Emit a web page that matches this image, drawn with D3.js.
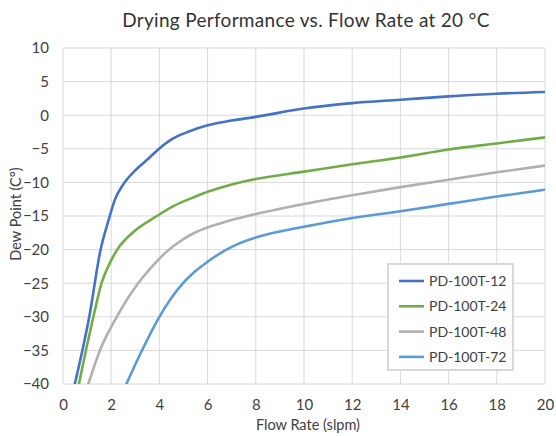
<!DOCTYPE html>
<html>
<head>
<meta charset="utf-8">
<script src="https://cdn.jsdelivr.net/npm/d3@7"></script>
<style>
  body { margin: 0; background: #fff; }
  text { font-family: Lato, "Open Sans", sans-serif; fill: #404040; }
</style>
</head>
<body>
<script>
const seriesNames = ['PD-100T-12', 'PD-100T-24', 'PD-100T-48', 'PD-100T-72']
const seriesColors = ['#4472c4', '#70ad47', '#b0b0b0', '#5b9bd5']

const pd12 = [[0.49,-40],[1.09,-30],[1.56,-20],[1.9,-15.5],[2.15,-12.6],[2.5,-10.3],[3.0,-8.2],[3.5,-6.6],[3.95,-5.1],[4.5,-3.6],[5.25,-2.4],[6,-1.5],[7,-0.8],[8,-0.25],[10,1.0],[12,1.8],[14,2.3],[16,2.8],[18,3.2],[20,3.45]]
const pd24 = [[0.66,-40],[0.95,-35],[1.26,-30],[1.6,-25],[2.0,-21.6],[2.25,-20],[2.85,-17.6],[3.9,-15],[4.6,-13.5],[5.5,-12.1],[6,-11.4],[7,-10.3],[8,-9.5],[10,-8.4],[12,-7.3],[14,-6.3],[16,-5.1],[18,-4.2],[20,-3.3]]
const pd48 = [[1.05,-40],[1.53,-35],[2.23,-30],[3.12,-25],[3.75,-22.3],[4.3,-20.3],[4.8,-18.9],[5.4,-17.6],[6,-16.7],[7,-15.6],[8,-14.7],[10,-13.2],[12,-11.9],[14,-10.7],[16,-9.6],[18,-8.5],[20,-7.5]]
const pd72 = [[2.63,-40],[3.25,-35.2],[4.0,-30],[4.98,-25],[5.5,-23.2],[6,-21.8],[6.5,-20.6],[7,-19.6],[8,-18.2],[9,-17.3],[10,-16.6],[12,-15.3],[14,-14.3],[16,-13.2],[18,-12.1],[20,-11.1]]
const seriesData = [pd12, pd24, pd48, pd72]

const xTicks = [0, 2, 4, 6, 8, 10, 12, 14, 16, 18, 20]
const yTicks = [10, 5, 0, -5, -10, -15, -20, -25, -30, -35, -40]

const width = 556, height = 436
const margin = { top: 48, right: 11, bottom: 52, left: 63 }

const svg = d3.select('body').append('svg')
  .attr('width', width)
  .attr('height', height)

const x = d3.scaleLinear().domain([0, 20]).range([margin.left, width - margin.right])
const y = d3.scaleLinear().domain([-40, 10]).range([height - margin.bottom, margin.top])

// grid
svg.append('g')
  .selectAll('line.v')
  .data(xTicks)
  .enter().append('line')
  .attr('x1', d => x(d)).attr('x2', d => x(d))
  .attr('y1', y(10)).attr('y2', y(-40))
  .attr('stroke', '#d9d9d9')
  .attr('stroke-width', 1)

svg.append('g')
  .selectAll('line.h')
  .data(yTicks)
  .enter().append('line')
  .attr('x1', x(0)).attr('x2', x(20))
  .attr('y1', d => y(d)).attr('y2', d => y(d))
  .attr('stroke', '#d9d9d9')
  .attr('stroke-width', 1)

// axes (labels only)
const xAxis = svg.append('g')
  .attr('transform', `translate(0,${y(-40)})`)
  .call(d3.axisBottom(x).tickValues(xTicks).tickSize(0).tickPadding(15))
xAxis.select('.domain').remove()
xAxis.selectAll('text').style('font-size', '15px').style('fill', '#404040')

const yAxis = svg.append('g')
  .attr('transform', `translate(${x(0)},0)`)
  .call(d3.axisLeft(y).tickValues(yTicks).tickSize(0).tickPadding(14))
yAxis.select('.domain').remove()
yAxis.selectAll('text').style('font-size', '15px').style('fill', '#404040')

svg.append('clipPath').attr('id', 'plot')
  .append('rect')
  .attr('x', x(0)).attr('y', y(10))
  .attr('width', x(20) - x(0)).attr('height', y(-40) - y(10))

const line = d3.line()
  .curve(d3.curveMonotoneX)
  .x(d => x(d[0]))
  .y(d => y(d[1]))

svg.append('g')
  .attr('clip-path', 'url(#plot)')
  .selectAll('path')
  .data(seriesData)
  .enter().append('path')
  .attr('d', line)
  .attr('fill', 'none')
  .attr('stroke', (d, i) => seriesColors[i])
  .attr('stroke-width', 2.6)
  .attr('stroke-linecap', 'round')

// title + axis titles
svg.append('text')
  .attr('x', (x(0) + x(20)) / 2 + 2)
  .attr('y', 27)
  .attr('text-anchor', 'middle')
  .style('font-size', '19px')
  .style('letter-spacing', '0.3px')
  .style('fill', '#333')
  .text('Drying Performance vs. Flow Rate at 20 °C')

svg.append('text')
  .attr('x', (x(0) + x(20)) / 2 + 4)
  .attr('y', 430)
  .attr('text-anchor', 'middle')
  .style('font-size', '14.5px')
  .text('Flow Rate (slpm)')

svg.append('text')
  .attr('transform', `translate(21,${(y(10) + y(-40)) / 2 - 2}) rotate(-90)`)
  .attr('text-anchor', 'middle')
  .style('font-size', '14.5px')
  .text('Dew Point (C°)')

// legend
const legend = svg.append('g').attr('transform', 'translate(388,264)')
legend.append('rect')
  .attr('width', 125).attr('height', 106)
  .attr('fill', '#fff')
  .attr('stroke', '#d9d9d9')
  .attr('stroke-width', 2)

const items = legend.selectAll('g.item')
  .data(seriesNames)
  .enter().append('g')
  .attr('transform', (d, i) => `translate(0,${17 + i * 25.3})`)

items.append('line')
  .attr('x1', 11).attr('x2', 36)
  .attr('stroke', (d, i) => seriesColors[i])
  .attr('stroke-width', 2.6)

items.append('text')
  .attr('x', 41)
  .attr('dy', '0.35em')
  .style('font-size', '14px')
  .text(d => d)
</script>
</body>
</html>
